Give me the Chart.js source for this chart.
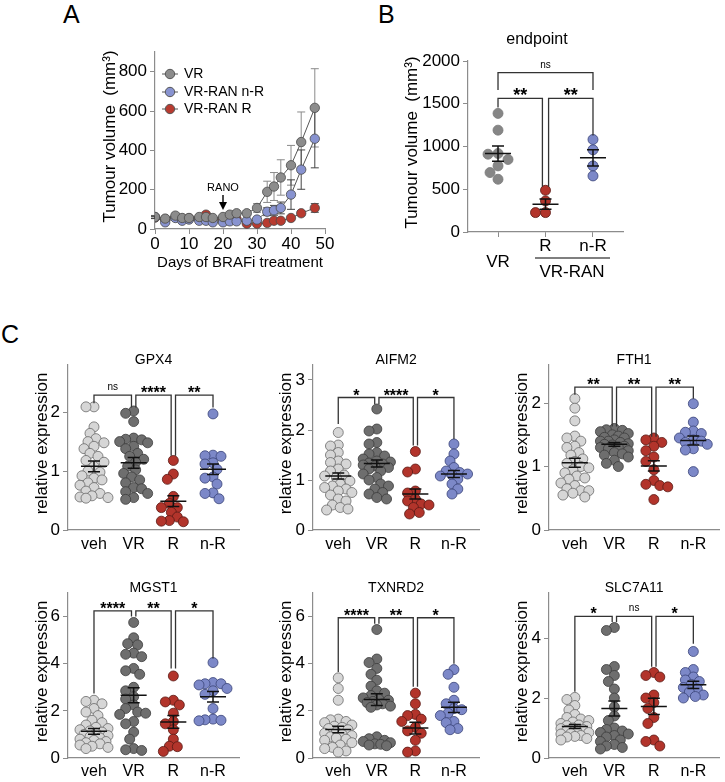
<!DOCTYPE html>
<html>
<head>
<meta charset="utf-8">
<title>Tumour volume and ferroptosis genes</title>
<script src="https://cdn.jsdelivr.net/npm/chart.js@4.4.1/dist/chart.umd.min.js"></script>
<style>
  body { margin: 0; background: #fff; }
  #fig { position: relative; width: 725px; height: 782px; overflow: hidden; font-family: "Liberation Sans", Arial, sans-serif; }
  #fig canvas { position: absolute; }
  .letter { position: absolute; font-size: 25px; line-height: 25px; color: #000; }
</style>
</head>
<body>
<div id="fig">
  <div class="letter" style="left:63px;top:2px">A</div>
  <div class="letter" style="left:378px;top:2px">B</div>
  <div class="letter" style="left:1px;top:322px">C</div>
</div>
<script>
// ---- panel A: tumour growth (mean +/- sem) ----
const days = [0, 3, 6, 8, 10, 13, 15, 17, 20, 22, 24, 27, 30, 33, 35, 37, 40, 43, 47];
const volVR = [61, 53, 68, 56, 56, 61, 61, 56, 61, 73, 80, 80, 107, 189, 216, 262, 324, 442, 616];
const semVR = [8, 6, 8, 6, 6, 7, 7, 6, 8, 10, 12, 14, 22, 54, 71, 90, 101, 153, 199];
const volNR = [61, 34, 56, 42, 48, 42, 42, 34, 34, 39, 39, 42, 48, 88, 95, 107, 175, 302, 459];
const semNR = [6, 5, 6, 5, 5, 5, 5, 5, 5, 6, 6, 8, 10, 20, 25, 30, 75, 100, 148];
const volR = [58, 50, 60, 52, 55, 55, 73, 50, 50, 50, 50, 27, 27, 31, 42, 42, 56, 80, 107];
const semR = [5, 5, 5, 5, 5, 5, 6, 5, 5, 5, 5, 5, 5, 6, 8, 8, 10, 12, 22];
const ticksA = [0, 200, 400, 600, 800];

// ---- panel B: endpoint volumes ----
const endLabels = [['', 'VR'], 'R', 'n-R'];
const endVR = [1387, 1191, 918, 910, 848, 773, 695, 617];
const endR = [488, 363, 227, 227];
const endNR = [1082, 961, 773, 656];
const endMean = [917, 326, 868];
const endSem = [90, 60, 95];
const ticksB = [0, 500, 1000, 1500, 2000];

// ---- panel C: relative expression ----
const groups = ['veh', 'VR', 'R', 'n-R'];

const gpx4Veh = [2.09, 2.09, 1.75, 1.64, 1.55, 1.50, 1.48, 1.42, 1.38, 1.30, 1.25, 1.18, 1.15, 1.08, 1.00, 0.98, 0.92, 0.88, 0.85, 0.80, 0.76, 0.72, 0.66, 0.62, 0.58, 0.56, 0.55, 0.54];
const gpx4VR = [2.02, 1.98, 1.84, 1.56, 1.54, 1.53, 1.50, 1.48, 1.42, 1.38, 1.30, 1.25, 1.20, 1.15, 1.08, 1.02, 0.96, 0.90, 0.85, 0.80, 0.72, 0.70, 0.65, 0.62, 0.55, 0.52];
const gpx4R = [1.18, 0.95, 0.86, 0.57, 0.45, 0.38, 0.38, 0.30, 0.22, 0.16, 0.15, 0.14];
const gpx4NR = [1.97, 1.27, 1.26, 1.25, 1.14, 1.12, 1.03, 0.90, 0.88, 0.78, 0.63, 0.62, 0.53];
const gpx4Mean = [1.08, 1.14, 0.49, 1.03];
const gpx4Sem = [0.09, 0.09, 0.09, 0.09];

const aifm2Veh = [1.95, 1.70, 1.68, 1.55, 1.50, 1.38, 1.35, 1.32, 1.22, 1.18, 1.10, 1.08, 1.05, 0.98, 0.92, 0.88, 0.85, 0.82, 0.78, 0.75, 0.70, 0.62, 0.58, 0.50, 0.45, 0.42, 0.40];
const aifm2VR = [2.42, 2.02, 1.98, 1.75, 1.72, 1.55, 1.52, 1.48, 1.42, 1.38, 1.36, 1.34, 1.32, 1.30, 1.28, 1.25, 1.22, 1.18, 1.12, 1.05, 1.00, 0.92, 0.88, 0.82, 0.75, 0.72, 0.65, 0.62];
const aifm2R = [1.57, 1.22, 1.16, 0.78, 0.74, 0.62, 0.58, 0.52, 0.50, 0.45, 0.35, 0.32];
const aifm2NR = [1.72, 1.52, 1.38, 1.25, 1.18, 1.15, 1.12, 1.10, 1.08, 1.02, 0.92, 0.82, 0.72];
const aifm2Mean = [1.08, 1.33, 0.72, 1.12];
const aifm2Sem = [0.06, 0.07, 0.10, 0.07];

const fth1Veh = [2.07, 1.92, 1.72, 1.48, 1.45, 1.40, 1.32, 1.30, 1.22, 1.18, 1.12, 1.08, 1.05, 1.00, 0.98, 0.95, 0.90, 0.85, 0.82, 0.80, 0.74, 0.70, 0.65, 0.62, 0.62, 0.58, 0.55, 0.52];
const fth1VR = [1.60, 1.58, 1.57, 1.55, 1.52, 1.50, 1.48, 1.46, 1.45, 1.42, 1.40, 1.40, 1.38, 1.36, 1.35, 1.34, 1.32, 1.30, 1.30, 1.28, 1.25, 1.22, 1.20, 1.18, 1.15, 1.10, 1.05, 1.00];
const fth1R = [1.45, 1.42, 1.38, 1.32, 1.25, 1.15, 1.08, 0.95, 0.78, 0.72, 0.70, 0.68, 0.48];
const fth1NR = [1.99, 1.70, 1.56, 1.54, 1.52, 1.45, 1.42, 1.40, 1.38, 1.35, 1.28, 1.26, 0.92];
const fth1Mean = [1.06, 1.35, 1.01, 1.41];
const fth1Sem = [0.07, 0.03, 0.08, 0.07];

const mgst1Veh = [2.45, 2.40, 2.30, 2.10, 1.95, 1.80, 1.60, 1.50, 1.40, 1.30, 1.25, 1.20, 1.15, 1.10, 1.05, 1.00, 0.95, 0.90, 0.85, 0.80, 0.75, 0.70, 0.65, 0.60, 0.55, 0.50, 0.45, 0.40];
const mgst1VR = [5.75, 5.10, 4.85, 4.80, 4.45, 4.40, 4.30, 3.80, 3.70, 3.55, 3.00, 2.85, 2.60, 2.50, 2.25, 2.10, 1.95, 1.90, 1.85, 1.55, 1.45, 1.10, 0.80, 0.40, 0.35, 0.32];
const mgst1R = [3.48, 2.45, 2.38, 2.25, 1.90, 1.55, 1.45, 1.20, 0.80, 0.50, 0.48, 0.28];
const mgst1NR = [4.05, 3.20, 3.15, 3.15, 3.10, 2.95, 2.85, 2.70, 2.10, 1.65, 1.62, 1.60, 1.58];
const mgst1Mean = [1.13, 2.66, 1.53, 2.60];
const mgst1Sem = [0.12, 0.32, 0.27, 0.22];

const txnrd2Veh = [3.40, 2.95, 2.45, 1.65, 1.62, 1.55, 1.50, 1.40, 1.35, 1.30, 1.25, 1.20, 1.10, 1.05, 1.00, 0.95, 0.90, 0.85, 0.80, 0.75, 0.65, 0.55, 0.45, 0.40, 0.30, 0.25];
const txnrd2VR = [5.45, 4.20, 4.05, 3.80, 3.55, 3.30, 3.05, 2.85, 2.75, 2.65, 2.55, 2.50, 2.45, 2.40, 2.35, 2.30, 2.25, 2.20, 2.15, 0.90, 0.82, 0.75, 0.70, 0.65, 0.60, 0.58, 0.55, 0.52];
const txnrd2R = [2.75, 2.30, 1.85, 1.80, 1.65, 1.55, 1.30, 1.15, 1.05, 0.75, 0.30, 0.25];
const txnrd2NR = [3.75, 3.55, 3.00, 2.45, 2.30, 2.10, 2.05, 1.90, 1.80, 1.55, 1.50, 1.25, 1.20];
const txnrd2Mean = [1.21, 2.48, 1.27, 2.15];
const txnrd2Sem = [0.14, 0.25, 0.25, 0.22];

const slcVeh = [2.02, 1.95, 1.75, 1.60, 1.45, 1.35, 1.30, 1.25, 1.20, 1.15, 1.10, 1.08, 1.05, 1.00, 0.98, 0.95, 0.92, 0.90, 0.85, 0.82, 0.80, 0.75, 0.72, 0.70, 0.65, 0.60];
const slcVR = [4.35, 4.25, 3.05, 2.95, 2.75, 2.55, 2.30, 2.00, 1.70, 1.40, 1.25, 1.00, 0.95, 0.90, 0.85, 0.80, 0.75, 0.70, 0.60, 0.55, 0.45, 0.40, 0.35, 0.30];
const slcR = [2.85, 2.75, 2.70, 2.10, 2.00, 1.85, 1.65, 1.35, 1.15, 0.60, 0.55, 0.40];
const slcNR = [3.55, 2.95, 2.85, 2.70, 2.60, 2.55, 2.45, 2.35, 2.30, 2.20, 2.10, 2.05, 2.00];
const slcMean = [1.05, 1.65, 1.72, 2.44];
const slcSem = [0.07, 0.25, 0.27, 0.12];

// significance brackets: [from, to, bar height, left leg end, right leg end, label]
const gpx4Sig = [[0, 0.945, 2.29, 2.15, 2.08, 'ns'], [1.055, 1.945, 2.29, 2.08, 1.26, '****'], [2.055, 3, 2.29, 1.26, 2.08, '**']];
const aifm2Sig = [[0, 0.945, 2.65, 2.12, 2.52, '*'], [1.055, 1.945, 2.65, 2.52, 1.69, '****'], [2.055, 3, 2.65, 1.69, 1.82, '*']];
const fth1Sig = [[0, 0.945, 2.25, 2.13, 1.63, '**'], [1.055, 1.945, 2.25, 1.63, 1.47, '**'], [2.055, 3, 2.25, 1.47, 2.07, '**']];
const mgst1Sig = [[0, 0.945, 6.24, 2.74, 6.0, '****'], [1.055, 1.945, 6.24, 6.0, 3.8, '**'], [2.055, 3, 6.24, 3.8, 4.22, '*']];
const txnrd2Sig = [[0, 0.945, 5.95, 3.65, 5.7, '****'], [1.055, 1.945, 5.95, 5.7, 3.02, '**'], [2.055, 3, 5.95, 3.02, 4.0, '*']];
const slcSig = [[0, 0.945, 4.72, 2.21, 4.53, '*'], [1.055, 1.945, 4.72, 4.53, 3.04, 'ns'], [2.055, 3, 4.72, 3.04, 3.81, '*']];
const endSig = [[0, 0.935, 1562, 1457, 530, '**'], [1.065, 2, 1562, 530, 1130, '**'], [0, 2, 1863, 1660, 1660, 'ns']];

const FONT = '"Liberation Sans", Arial, Helvetica, sans-serif';
Chart.defaults.font.family = FONT;
Chart.defaults.color = '#000';
const AXIS = '#8c8c8c';
const fig = document.getElementById('fig');

function makeCanvas(r) {
  const c = document.createElement('canvas');
  c.width = r.w; c.height = r.h;
  c.style.left = r.l + 'px'; c.style.top = r.t + 'px';
  c.style.width = r.w + 'px'; c.style.height = r.h + 'px';
  fig.appendChild(c);
  return c;
}

function text(ctx, s, x, y, size, o = {}) {
  ctx.save();
  ctx.font = (o.bold ? 'bold ' : '') + size + 'px ' + FONT;
  ctx.fillStyle = '#000';
  ctx.textAlign = o.align || 'center';
  ctx.textBaseline = o.base || 'middle';
  ctx.translate(x, y);
  if (o.rot) ctx.rotate(o.rot);
  ctx.fillText(s, 0, 0);
  ctx.restore();
}

// column scatter: pixel offsets, dots may overlap a little, width is capped
function swarm(vals, pxY, r, minD, maxOff) {
  const placed = [];
  return vals.map(v => {
    const y = v * pxY;
    let best = 0, bestD = -1;
    for (let k = 0; k < 200; k++) {
      const o = (k % 2 ? -1 : 1) * Math.ceil(k / 2) * r * 0.4;
      if (Math.abs(o) > maxOff) break;
      const d = placed.reduce((m, p) => Math.min(m, Math.hypot(p.x - o, p.y - y)), Infinity);
      if (d >= minD) { best = o; bestD = d; break; }
      if (d > bestD) { bestD = d; best = o; }
    }
    placed.push({ x: best, y });
    return best;
  });
}

function yAxis(r, area, max, ticks, size) {
  return {
    min: 0, max,
    afterBuildTicks: s => { s.ticks = ticks.map(v => ({ value: v })); },
    afterFit: s => { s.width = area.l - r.l; },
    ticks: { font: { size }, padding: 3, callback: v => String(v) },
    grid: { drawOnChartArea: false, tickLength: 5, color: AXIS },
    border: { color: AXIS, width: 1.2 }
  };
}

function dotPlot(p) {
  const pxX = (p.area.r - p.area.l) / (p.xMax - p.xMin);
  const pxY = (p.area.b - p.area.t) / p.yMax;
  const datasets = p.sets.map((vals, i) => {
    const offs = swarm(vals, pxY, p.radius, p.minD, p.maxOff);
    return {
      data: vals.map((v, j) => ({ x: i + offs[j] / pxX, y: v })),
      backgroundColor: p.colors[i], borderColor: p.edges[i], borderWidth: 0.8,
      pointRadius: p.radius, pointHoverRadius: p.radius
    };
  });
  const annot = {
    id: 'dotAnnot',
    afterDatasetsDraw(chart) {
      const { ctx, scales: { x, y } } = chart;
      ctx.save();
      ctx.strokeStyle = '#111'; ctx.lineWidth = 1.5;
      p.mean.forEach((m, i) => {
        const cx = x.getPixelForValue(i), my = y.getPixelForValue(m);
        const hi = y.getPixelForValue(m + p.sem[i]), lo = y.getPixelForValue(m - p.sem[i]);
        ctx.beginPath();
        ctx.moveTo(cx - 13, my); ctx.lineTo(cx + 13, my);
        ctx.moveTo(cx, hi); ctx.lineTo(cx, lo);
        ctx.moveTo(cx - 6, hi); ctx.lineTo(cx + 6, hi);
        ctx.moveTo(cx - 6, lo); ctx.lineTo(cx + 6, lo);
        ctx.stroke();
      });
      ctx.strokeStyle = '#333'; ctx.lineWidth = 1.3;
      p.brackets.forEach(([f, t, h, bf, bt, lab]) => {
        const x1 = x.getPixelForValue(f), x2 = x.getPixelForValue(t), yb = y.getPixelForValue(h);
        ctx.beginPath();
        ctx.moveTo(x1, y.getPixelForValue(bf)); ctx.lineTo(x1, yb);
        ctx.lineTo(x2, yb); ctx.lineTo(x2, y.getPixelForValue(bt));
        ctx.stroke();
        if (lab === 'ns') text(ctx, lab, (x1 + x2) / 2, yb - 5, 10, { base: 'alphabetic' });
        else text(ctx, lab, (x1 + x2) / 2, yb + p.starDy, p.starSize, { bold: true, base: 'alphabetic' });
      });
      ctx.restore();
    },
    afterDraw(chart) {
      const { ctx, chartArea: a } = chart;
      text(ctx, p.title, p.titleX != null ? p.titleX - p.rect.l : (a.left + a.right) / 2, p.titleY - p.rect.t, p.titleSize);
      text(ctx, p.yTitle, p.yTitleX - p.rect.l, (a.top + a.bottom) / 2 - 4, p.yTitleSize, { rot: -Math.PI / 2 });
      if (p.extra) p.extra(ctx, chart);
    }
  };
  return new Chart(makeCanvas(p.rect), {
    type: 'scatter',
    data: { datasets },
    options: {
      responsive: false, animation: false, events: [],
      layout: { padding: { top: p.area.t - p.rect.t, right: p.rect.l + p.rect.w - p.area.r, left: 0, bottom: 0 } },
      plugins: { legend: { display: false }, tooltip: { enabled: false } },
      scales: {
        x: {
          type: 'linear', min: p.xMin, max: p.xMax,
          afterBuildTicks: s => { s.ticks = p.xLabels.map((_, i) => ({ value: i })); },
          afterFit: s => { s.height = p.rect.t + p.rect.h - p.area.b; },
          ticks: { callback: v => p.xLabels[v], font: { size: p.xFont, lineHeight: p.xLine }, padding: p.xPad, maxRotation: 0, autoSkip: false },
          grid: { drawOnChartArea: false, drawTicks: p.xTickLen > 0, tickLength: p.xTickLen, color: AXIS },
          border: { color: AXIS, width: 1.2 }
        },
        y: yAxis(p.rect, p.area, p.yMax, p.yTicks, 17)
      }
    },
    plugins: [annot]
  });
}

// ---------- panel A ----------
const aRect = { l: 60, t: 30, w: 285, h: 240 };
const aArea = { l: 155, t: 52, r: 325, b: 229 };
const aSeries = [
  { label: 'VR', vol: volVR, sem: semVR, fill: '#8c8c8c', err: '#8a8a8a' },
  { label: 'VR-RAN n-R', vol: volNR, sem: semNR, fill: '#8893d0', err: '#444' },
  { label: 'VR-RAN R', vol: volR, sem: semR, fill: '#b83b30', err: '#444' }
];
const growthExtras = {
  id: 'growthExtras',
  beforeDatasetsDraw(chart) {
    const { ctx, scales: { y } } = chart;
    ctx.save(); ctx.lineWidth = 1;
    chart.data.datasets.forEach((ds, i) => {
      ctx.strokeStyle = aSeries[i].err;
      chart.getDatasetMeta(i).data.forEach((pt, j) => {
        const v = ds.data[j].y, e = aSeries[i].sem[j];
        const hi = y.getPixelForValue(v + e), lo = y.getPixelForValue(v - e);
        ctx.beginPath();
        ctx.moveTo(pt.x, hi); ctx.lineTo(pt.x, lo);
        ctx.moveTo(pt.x - 4, hi); ctx.lineTo(pt.x + 4, hi);
        ctx.moveTo(pt.x - 4, lo); ctx.lineTo(pt.x + 4, lo);
        ctx.stroke();
      });
    });
    ctx.restore();
  },
  afterDraw(chart) {
    const { ctx, chartArea: a, scales: { x } } = chart;
    const ox = aRect.l, oy = aRect.t;
    text(ctx, 'Tumour volume  (mm\u00B3)', 110 - ox, (a.top + a.bottom) / 2 - 4, 17, { rot: -Math.PI / 2 });
    text(ctx, 'Days of BRAFi treatment', (a.left + a.right) / 2, 263 - oy, 15);
    // legend
    [74, 92, 109].forEach((yy, i) => {
      const cy = yy - oy, cx = 170 - ox;
      ctx.save();
      ctx.strokeStyle = '#555'; ctx.lineWidth = 1;
      ctx.beginPath(); ctx.moveTo(cx - 8, cy); ctx.lineTo(cx + 8, cy); ctx.stroke();
      ctx.fillStyle = aSeries[i].fill;
      ctx.beginPath(); ctx.arc(cx, cy, 4.7, 0, Math.PI * 2); ctx.fill(); ctx.stroke();
      ctx.restore();
      text(ctx, aSeries[i].label, 184 - ox, cy, 14, { align: 'left' });
    });
    // RANO arrow
    const rx = x.getPixelForValue(20);
    text(ctx, 'RANO', rx, 188 - oy, 11);
    ctx.save();
    ctx.strokeStyle = '#000'; ctx.fillStyle = '#000'; ctx.lineWidth = 1.4;
    ctx.beginPath(); ctx.moveTo(rx, 195 - oy); ctx.lineTo(rx, 204 - oy); ctx.stroke();
    ctx.beginPath(); ctx.moveTo(rx - 4, 202 - oy); ctx.lineTo(rx + 4, 202 - oy); ctx.lineTo(rx, 210 - oy); ctx.closePath(); ctx.fill();
    ctx.restore();
  }
};
new Chart(makeCanvas(aRect), {
  type: 'line',
  data: {
    datasets: aSeries.map((s, i) => ({
      label: s.label,
      data: days.map((d, j) => ({ x: d, y: s.vol[j] })),
      order: i,
      borderColor: '#555', borderWidth: 1, tension: 0, fill: false,
      pointRadius: 4.7, pointHoverRadius: 4.7,
      pointBackgroundColor: s.fill, pointBorderColor: '#4a4a4a', pointBorderWidth: 0.8
    }))
  },
  options: {
    responsive: false, animation: false, events: [],
    layout: { padding: { top: aArea.t - aRect.t, right: aRect.l + aRect.w - aArea.r, left: 0, bottom: 0 } },
    plugins: { legend: { display: false }, tooltip: { enabled: false } },
    scales: {
      x: {
        type: 'linear', min: 0, max: 50,
        afterFit: s => { s.height = aRect.t + aRect.h - aArea.b; },
        ticks: { stepSize: 10, font: { size: 17 }, padding: 0, maxRotation: 0 },
        grid: { drawOnChartArea: false, tickLength: 5, color: AXIS },
        border: { color: AXIS, width: 1.2 }
      },
      y: yAxis(aRect, aArea, 900, ticksA, 17)
    }
  },
  plugins: [growthExtras]
});

// ---------- panel B ----------
dotPlot({
  rect: { l: 340, t: 30, w: 300, h: 260 },
  area: { l: 468, t: 61, r: 623, b: 232 },
  xMin: -0.632, xMax: 2.632, yMax: 2000, yTicks: ticksB,
  sets: [endVR, endR, endNR],
  colors: ['#868686', '#b2342b', '#7c88c8'], edges: ['#7a7a7a', '#5a1a15', '#3a4478'],
  radius: 5, minD: 10, maxOff: 14, mean: endMean, sem: endSem, brackets: endSig,
  starSize: 18, starDy: 3,
  xLabels: endLabels, xFont: 17, xLine: 0.95, xPad: 1, xTickLen: 5,
  title: 'endpoint', titleX: 537, titleY: 40, titleSize: 16,
  yTitle: 'Tumour volume  (mm\u00B3)', yTitleX: 412, yTitleSize: 17,
  extra: (ctx) => {
    ctx.save();
    ctx.strokeStyle = '#000'; ctx.lineWidth = 1.2;
    ctx.beginPath(); ctx.moveTo(535 - 340, 258 - 30); ctx.lineTo(610 - 340, 258 - 30); ctx.stroke();
    ctx.restore();
    text(ctx, 'VR-RAN', 572 - 340, 272 - 30, 17);
  }
});

// ---------- panel C ----------
const cColors = ['#d6d6d6', '#6e6e6e', '#b2342b', '#7c88c8'];
const cEdges = ['#6a6a6a', '#3c3c3c', '#5a1a15', '#3a4478'];
const cols = [
  { l: 0, w: 245, al: 68, ar: 239, yt: 42 },
  { l: 245, w: 240, al: 313, ar: 484, yt: 286 },
  { l: 485, w: 240, al: 549, ar: 720, yt: 522 }
];
const rows = [
  { t: 330, h: 230, at: 365, ab: 530, pad: 5 },
  { t: 560, h: 222, at: 593, ab: 758, pad: 4 }
];
const cPanels = [
  { name: 'GPX4', sets: [gpx4Veh, gpx4VR, gpx4R, gpx4NR], mean: gpx4Mean, sem: gpx4Sem, sig: gpx4Sig, yMax: 2.8, ticks: [0, 1, 2] },
  { name: 'AIFM2', sets: [aifm2Veh, aifm2VR, aifm2R, aifm2NR], mean: aifm2Mean, sem: aifm2Sem, sig: aifm2Sig, yMax: 3.3, ticks: [0, 1, 2, 3] },
  { name: 'FTH1', sets: [fth1Veh, fth1VR, fth1R, fth1NR], mean: fth1Mean, sem: fth1Sem, sig: fth1Sig, yMax: 2.6, ticks: [0, 1, 2] },
  { name: 'MGST1', sets: [mgst1Veh, mgst1VR, mgst1R, mgst1NR], mean: mgst1Mean, sem: mgst1Sem, sig: mgst1Sig, yMax: 7, ticks: [0, 2, 4, 6] },
  { name: 'TXNRD2', sets: [txnrd2Veh, txnrd2VR, txnrd2R, txnrd2NR], mean: txnrd2Mean, sem: txnrd2Sem, sig: txnrd2Sig, yMax: 7, ticks: [0, 2, 4, 6] },
  { name: 'SLC7A11', sets: [slcVeh, slcVR, slcR, slcNR], mean: slcMean, sem: slcSem, sig: slcSig, yMax: 5.5, ticks: [0, 2, 4] }
];
cPanels.forEach((g, k) => {
  const c = cols[k % 3], r = rows[Math.floor(k / 3)];
  dotPlot({
    rect: { l: c.l, t: r.t, w: c.w, h: r.h },
    area: { l: c.al, t: r.at, r: c.ar, b: r.ab },
    xMin: -0.655, xMax: 3.655, yMax: g.yMax, yTicks: g.ticks,
    sets: g.sets, colors: cColors, edges: cEdges, radius: 5, minD: 7.5, maxOff: 14,
    mean: g.mean, sem: g.sem, brackets: g.sig,
    starSize: 16, starDy: 3,
    xLabels: groups, xFont: 16, xLine: 1.2, xPad: r.pad, xTickLen: 0,
    title: g.name, titleY: r.at - 5, titleSize: 14,
    yTitle: 'relative expression', yTitleX: c.yt, yTitleSize: 17
  });
});
</script>
</body>
</html>
